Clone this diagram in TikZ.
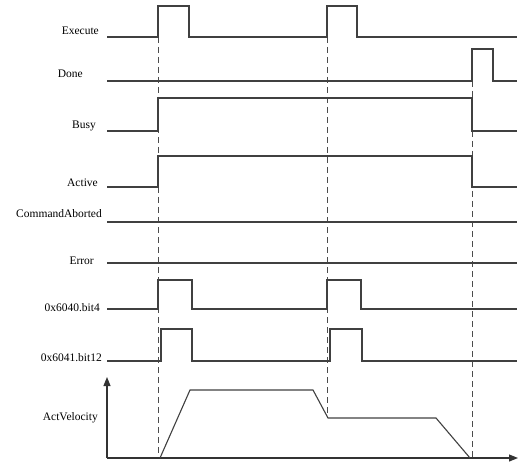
\documentclass[tikz,border=0pt]{standalone}
\usepackage{fontspec}
\setmainfont{Liberation Serif}
\usetikzlibrary{arrows.meta}
\begin{document}
\begin{tikzpicture}[x=1pt,y=-1pt,
  sig/.style={draw=black!75,line width=1.1pt,line join=miter},
  guide/.style={draw=black!70,line width=0.9pt,dash pattern=on 6pt off 4pt},
  lbl/.style={anchor=base east,inner sep=0pt,font=\fontsize{11.5}{12}\selectfont},
  axis/.style={draw=black!80,line width=1.1pt,-{Triangle[length=9pt,width=7pt]}}]
\useasboundingbox (0,0) rectangle (521,470);
% labels
\node[lbl] (lexe) at (99,35) {Execute};
\node[lbl] (ldone) at (83,78) {Done};
\node[lbl] (lbusy) at (96,129) {Busy};
\node[lbl] (lact) at (98,187) {Active};
\node[lbl] (lca) at (102,218) {CommandAborted};
\node[lbl] (lerr) at (94,264) {Error};
\node[lbl] (lb4) at (100,311) {0x6040.bit4};
\node[lbl] (lb12) at (102,361) {0x6041.bit12};
\node[lbl] (lvel) at (98,420) {ActVelocity};
% guide lines
\draw[guide] (158,37) -- (158,458);
\draw[guide] (327,37) -- (327,418);
\draw[guide] (472,81) -- (472,458);
% signals
\draw[sig] (107,37) -- (158,37) -- (158,6) -- (189,6) -- (189,37) -- (327,37) -- (327,6) -- (357,6) -- (357,37) -- (517,37);
\draw[sig] (107,81) -- (472,81) -- (472,49) -- (493,49) -- (493,81) -- (517,81);
\draw[sig] (107,131) -- (158,131) -- (158,98) -- (472,98) -- (472,131) -- (517,131);
\draw[sig] (107,187) -- (158,187) -- (158,156) -- (472,156) -- (472,187) -- (517,187);
\draw[sig] (107,222) -- (517,222);
\draw[sig] (107,263) -- (517,263);
\draw[sig] (107,309) -- (158,309) -- (158,280) -- (192,280) -- (192,309) -- (327,309) -- (327,280) -- (361,280) -- (361,309) -- (517,309);
\draw[sig] (107,361) -- (161,361) -- (161,329) -- (192,329) -- (192,361) -- (330,361) -- (330,329) -- (362,329) -- (362,361) -- (517,361);
% velocity axes
\coordinate (o) at (107,458);
\coordinate (ytip) at (107,377);
\coordinate (xtip) at (518,458);
\draw[axis] (o) -- (ytip);
\draw[axis] (o) -- (xtip);
\draw[sig] (160,458) -- (190,390) -- (313,390) -- (328,418) -- (436,418) -- (470,458);
\end{tikzpicture}
\end{document}
